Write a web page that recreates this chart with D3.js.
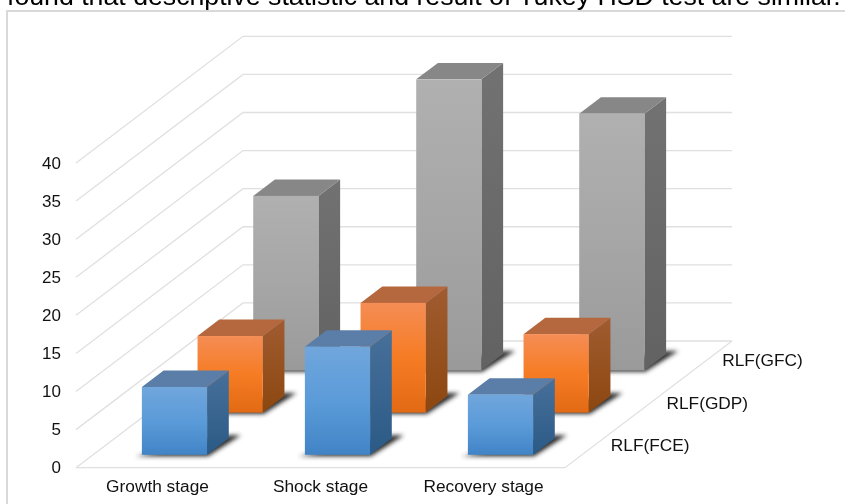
<!DOCTYPE html>
<html><head><meta charset="utf-8">
<script src="https://cdn.jsdelivr.net/npm/d3@7"></script>
<style>html,body{margin:0;padding:0;background:#fff}svg{display:block;filter:blur(.35px)}text{font-family:"Liberation Sans",Arial,sans-serif;fill:#111}</style>
</head><body><svg id="c" width="845" height="504"></svg>
<script>
const categories=["Growth stage","Shock stage","Recovery stage"];
const seriesNames=["RLF(FCE)","RLF(GDP)","RLF(GFC)"];
const rlfFCE=[8.9,14.2,7.9];
const rlfGDP=[10.05,14.4,10.3];
const rlfGFC=[22.9,38.2,33.7];
const seriesValues=[rlfFCE,rlfGDP,rlfGFC];
const yTicks=[0,5,10,15,20,25,30,35,40];
const captionText="found that descriptive statistic and result of Tukey HSD test are similar.";
const palette=[
 {top:"#5a7ea8",side:["#47709a","#2b5a86"],front:["#70a6dc","#5b9bd9","#4184c6"]},
 {top:"#b5683d",side:["#a05c30","#8c4710"],front:["#f58d55","#f67c24","#e26a14"]},
 {top:"#878787",side:["#727272","#626262"],front:["#b0b0b0","#a6a6a6","#9a9a9a"]}];

const svg=d3.select("#c");
const W0=76,Y0=467.7,floorW=489,depthX=167,depthY=126.7;
const y=d3.scaleLinear().domain([0,40]).range([Y0,163]);
const x=d3.scaleBand().domain(categories).range([0,floorW]).paddingInner(.6).paddingOuter(.3);
const z=d3.scaleBand().domain(seriesNames).range([0,1]).paddingInner(.61).paddingOuter(.305);
const px=(xv,zf)=>W0+xv+zf*depthX;
const py=(v,zf)=>y(v)-zf*depthY;
const pts=a=>a.map(p=>p.join(",")).join(" ");

const defs=svg.append("defs");
defs.append("filter").attr("id","blur").attr("x","-30%").attr("y","-50%").attr("width","160%").attr("height","200%")
 .append("feGaussianBlur").attr("stdDeviation",2.2);
palette.forEach((p,i)=>{
 const g=defs.append("linearGradient").attr("id","f"+i).attr("x1",0).attr("x2",0).attr("y1",0).attr("y2",1);
 p.front.forEach((c,k)=>g.append("stop").attr("offset",k/2).attr("stop-color",c));
 const s=defs.append("linearGradient").attr("id","s"+i).attr("x1",0).attr("x2",0).attr("y1",0).attr("y2",1);
 p.side.forEach((c,k)=>s.append("stop").attr("offset",k).attr("stop-color",c));
});

// caption and frame
svg.append("text").attr("x",7).attr("y",4.5).attr("font-size",26.7).style("fill","#000").text(captionText);
svg.append("path").attr("d","M7,504V11H845").attr("fill","none").attr("stroke","#d9d9d9").attr("stroke-width",2);

// walls
const grid=svg.append("g").attr("fill","none").attr("stroke","#e0e0e0").attr("stroke-width",1.3);
yTicks.forEach(t=>{
 grid.append("polyline").attr("points",pts([[px(0,0),py(t,0)],[px(0,1),py(t,1)],[px(floorW,1),py(t,1)]]));
});
grid.append("polyline").attr("points",pts([[px(0,0),py(0,0)],[px(floorW,0),py(0,0)],[px(floorW,1),py(0,1)]]));

// bars, back to front
d3.range(2,-1,-1).forEach(si=>{
 const name=seriesNames[si],p=palette[si];
 const z0=z(name),z1=z0+z.bandwidth();
 categories.forEach((c,ci)=>{
  const v=seriesValues[si][ci],a=x(c),b=a+x.bandwidth();
  const g=svg.append("g");
  const bx=px(b,z0),by=py(0,z0),ax=px(a,z0),dx=px(b,z1)-bx,dy=by-py(0,z1);
  g.append("polygon").attr("filter","url(#blur)").attr("fill","#2e2e2e")
   .attr("points",pts([[ax-6,by+1.5],[bx+1,by+1.5],[bx+dx+12,by-dy-3],[bx+dx,by-dy-3]]));
  g.append("polygon").attr("fill",`url(#s${si})`)
   .attr("points",pts([[px(b,z0),py(v,z0)],[px(b,z1),py(v,z1)],[px(b,z1),py(0,z1)],[px(b,z0),py(0,z0)]]));
  g.append("polygon").attr("fill",p.top)
   .attr("points",pts([[px(a,z0),py(v,z0)],[px(a,z1),py(v,z1)],[px(b,z1),py(v,z1)],[px(b,z0),py(v,z0)]]));
  g.append("rect").attr("x",px(a,z0)).attr("y",py(v,z0)).attr("width",x.bandwidth()).attr("height",py(0,z0)-py(v,z0)).attr("fill",`url(#f${si})`);
 });
});

// axes
const yAxis=svg.append("g").attr("transform","translate(61,-1)")
 .call(d3.axisLeft(y).tickValues(yTicks).tickSize(0).tickPadding(0));
yAxis.select(".domain").remove();
yAxis.selectAll("text").attr("font-size",17).attr("font-family",'"Liberation Sans",Arial,sans-serif').attr("dy","0.36em");
const xAxis=svg.append("g").attr("transform",`translate(${W0},480)`)
 .call(d3.axisBottom(x).tickSize(0).tickPadding(0));
xAxis.select(".domain").remove();
xAxis.selectAll("text").attr("font-size",17.3).attr("font-family",'"Liberation Sans",Arial,sans-serif');

// depth axis labels
const zAxisLabels=svg.append("g");
seriesNames.forEach(n=>{
 const zc=z(n)+z.bandwidth()/2;
 zAxisLabels.append("text").attr("x",px(floorW,zc)+18).attr("y",py(0,zc)-2).attr("dy","0.36em").attr("font-size",17.3).text(n);
});
</script></body></html>
